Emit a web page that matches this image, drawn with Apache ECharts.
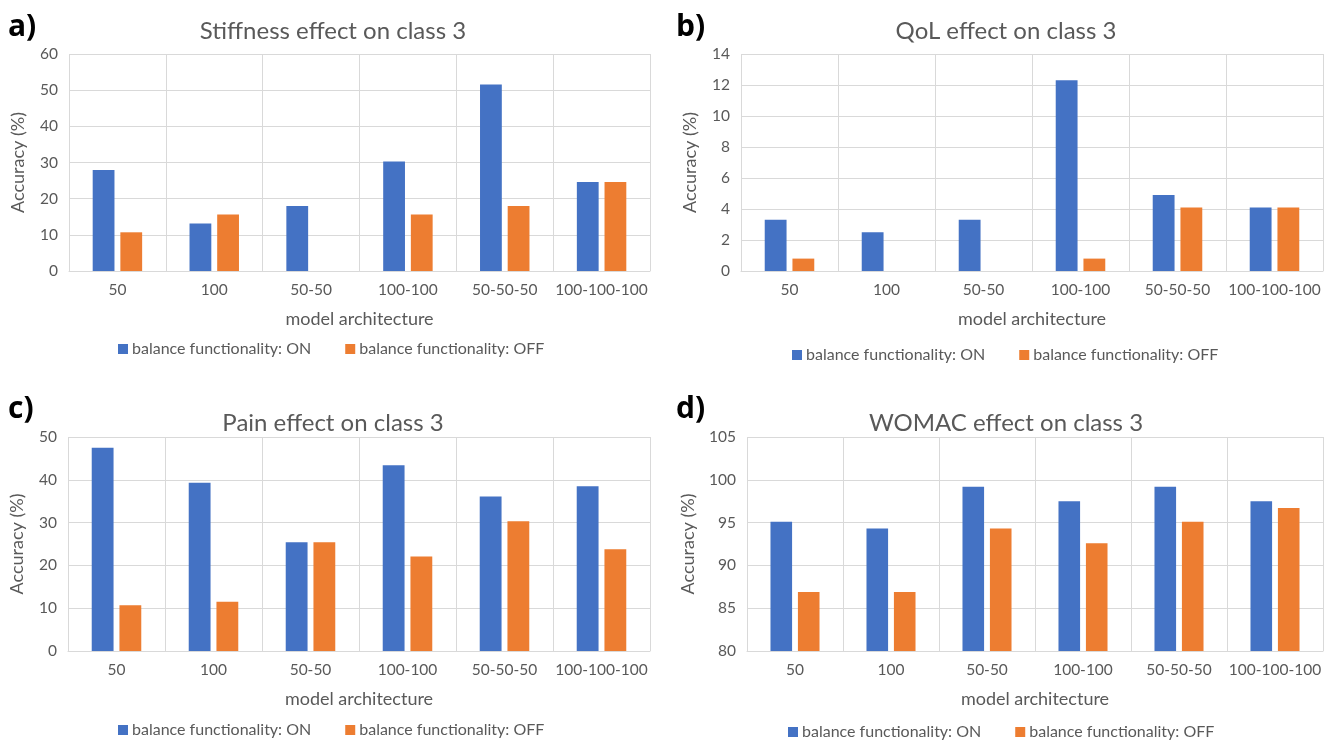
<!DOCTYPE html>
<html>
<head>
<meta charset="utf-8">
<title>Effect on class 3</title>
<script src="https://cdn.jsdelivr.net/npm/echarts@6/dist/echarts.min.js"></script>
<style>
  html, body { margin: 0; padding: 0; background: #ffffff; }
  #chart { width: 1333px; height: 741px; }
</style>
</head>
<body>
<div id="chart"></div>
<script>
// Model architectures on the category axis
const categories = ['50', '100', '50-50', '100-100', '50-50-50', '100-100-100'];
const seriesNames = ['balance functionality: ON', 'balance functionality: OFF'];

// Accuracy (%) on class 3, per feature set
const stiffnessOn  = [27.9, 13.1, 18.0, 30.3, 51.6, 24.6];
const stiffnessOff = [10.7, 15.6, 0,    15.6, 18.0, 24.6];
const qolOn        = [3.3, 2.5, 3.3, 12.3, 4.9, 4.1];
const qolOff       = [0.8, 0,   0,   0.8,  4.1, 4.1];
const painOn       = [47.5, 39.3, 25.4, 43.4, 36.1, 38.5];
const painOff      = [10.7, 11.5, 25.4, 22.1, 30.3, 23.8];
const womacOn      = [95.1, 94.3, 99.2, 97.5, 99.2, 97.5];
const womacOff     = [86.9, 86.9, 94.3, 92.6, 95.1, 96.7];

// Panel titles and value-axis ranges
const panelTags   = ['a)', 'b)', 'c)', 'd)'];
const panelTitles = ['Stiffness effect on class 3', 'QoL effect on class 3',
                     'Pain effect on class 3', 'WOMAC effect on class 3'];
const yRanges = [[0, 60, 10], [0, 14, 2], [0, 50, 10], [80, 105, 5]];

const BLUE = '#4472C4', ORANGE = '#ED7D31', GRID = '#D9D9D9', TEXT = '#595959';
const FONT = 'Lato, "Open Sans", sans-serif';

const panelData = [
  [stiffnessOn, stiffnessOff],
  [qolOn, qolOff],
  [painOn, painOff],
  [womacOn, womacOff]
];

// Layout of the four panels
const layout = [
  { grid: { left: 69,  right: 683, top: 54,  bottom: 470 }, title: { x: 328,  y: 14 },  tag: { x: 8,   y: 12 },  legend: { left: 118, top: 341 }, nameGapY: 42 },
  { grid: { left: 741, right: 10,  top: 54,  bottom: 470 }, title: { x: 1001, y: 14 },  tag: { x: 676, y: 12 },  legend: { left: 792, top: 347 }, nameGapY: 42 },
  { grid: { left: 68,  right: 683, top: 437, bottom: 90 },  title: { x: 328,  y: 406 }, tag: { x: 8,   y: 394 }, legend: { left: 118, top: 722 }, nameGapY: 42 },
  { grid: { left: 747, right: 10,  top: 437, bottom: 90 },  title: { x: 1001, y: 406 }, tag: { x: 676, y: 394 }, legend: { left: 788, top: 724 }, nameGapY: 50 }
];

const option = {
  backgroundColor: '#ffffff',
  animation: false,
  title: [], grid: [], xAxis: [], yAxis: [], legend: [], series: [], graphic: []
};

layout.forEach((L, i) => {
  option.grid.push(Object.assign({ containLabel: false }, L.grid));

  option.title.push({
    text: panelTitles[i],
    left: L.title.x, top: L.title.y, textAlign: 'center',
    textStyle: { fontFamily: FONT, fontSize: 24, fontWeight: 'normal', color: TEXT }
  });

  option.graphic.push({
    type: 'text', left: L.tag.x, top: L.tag.y,
    style: { text: panelTags[i], font: 'bold 30px "Open Sans", sans-serif', fill: '#000000' }
  });

  option.xAxis.push({
    type: 'category', gridIndex: i, data: categories,
    name: 'model architecture', nameLocation: 'middle', nameGap: 39,
    nameTextStyle: { fontFamily: FONT, fontSize: 18, color: TEXT },
    axisLine: { show: true, lineStyle: { color: GRID, width: 1 } },
    axisTick: { show: false },
    axisLabel: { interval: 0, margin: 11, fontFamily: FONT, fontSize: 15.5, color: TEXT },
    splitLine: { show: true, interval: 0, lineStyle: { color: GRID, width: 1 } }
  });

  option.yAxis.push({
    type: 'value', gridIndex: i,
    min: yRanges[i][0], max: yRanges[i][1], interval: yRanges[i][2],
    name: 'Accuracy (%)', nameLocation: 'middle', nameGap: L.nameGapY,
    nameTextStyle: { fontFamily: FONT, fontSize: 18, color: TEXT },
    axisLine: { show: false }, axisTick: { show: false },
    axisLabel: { margin: 11, fontFamily: FONT, fontSize: 15.5, color: TEXT },
    splitLine: { show: true, lineStyle: { color: GRID, width: 1 } }
  });

  option.legend.push({
    data: seriesNames, left: L.legend.left, top: L.legend.top,
    orient: 'horizontal', icon: 'rect', itemWidth: 10, itemHeight: 10,
    itemGap: 34, padding: 0, selectedMode: false,
    textStyle: { fontFamily: FONT, fontSize: 16, color: TEXT, padding: [0, 0, 0, -1] }
  });

  [BLUE, ORANGE].forEach((c, k) => {
    option.series.push({
      name: seriesNames[k], type: 'bar',
      xAxisIndex: i, yAxisIndex: i,
      data: panelData[i][k],
      itemStyle: { color: c },
      barWidth: '22.5%', barGap: '27%',
      emphasis: { disabled: true }
    });
  });
});

const chart = echarts.init(document.getElementById('chart'), null, { renderer: 'canvas' });
chart.setOption(option);
</script>
</body>
</html>
